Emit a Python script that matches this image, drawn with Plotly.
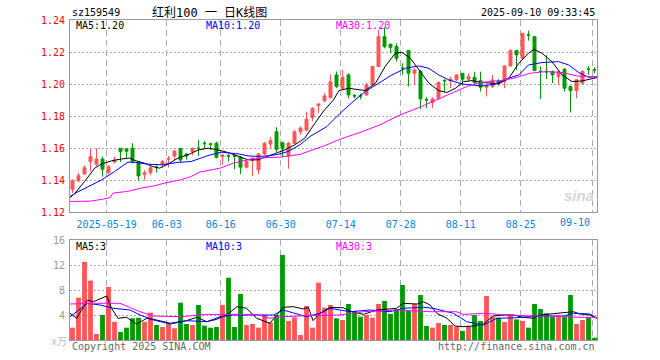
import plotly.graph_objects as go

# ---------------- data ----------------
may = [9, 12, 13, 14, 15, 16, 19, 20, 21, 22, 23, 26, 27, 28, 29, 30]
jun = [3, 4, 5, 6, 9, 10, 11, 12, 13, 16, 17, 18, 19, 20, 23, 24, 25, 26, 27, 30]
jul = [1, 2, 3, 4, 7, 8, 9, 10, 11, 14, 15, 16, 17, 18, 21, 22, 23, 24, 25, 28, 29, 30, 31]
aug = [1, 4, 5, 6, 7, 8, 11, 12, 13, 14, 15, 18, 19, 20, 21, 22, 25, 26, 27, 28, 29]
sep = [1, 2, 3, 4, 5, 8, 9, 10]
dates = ([f"2025-05-{d:02d}" for d in may] + [f"2025-06-{d:02d}" for d in jun] +
         [f"2025-07-{d:02d}" for d in jul] + [f"2025-08-{d:02d}" for d in aug] +
         [f"2025-09-{d:02d}" for d in sep])

opens = [1.1342, 1.1396, 1.1438, 1.1514, 1.1498, 1.1531, 1.1446, 1.1513, 1.1598, 1.1594,
         1.1598, 1.1508, 1.1434, 1.1446, 1.1480, 1.1498, 1.1530, 1.1550, 1.1597, 1.1562,
         1.1578, 1.1600, 1.1630, 1.1626, 1.1630, 1.1547, 1.1552, 1.1552, 1.1542, 1.1480,
         1.1521, 1.1463, 1.1563, 1.1625, 1.1702, 1.1633, 1.1550, 1.1629, 1.1702, 1.1712,
         1.1790, 1.1865, 1.1896, 1.1915, 1.2057, 1.1973, 1.2057, 1.1928, 1.1927, 1.1932,
         1.1994, 1.2109, 1.2296, 1.2248, 1.2234, 1.2100, 1.2209, 1.2067, 1.2078, 1.1902,
         1.1884, 1.1911, 1.2023, 1.2019, 1.2026, 1.2067, 1.2030, 1.2042, 1.2021, 1.1980,
         1.1984, 1.2020, 1.2015, 1.2113, 1.2209, 1.2161, 1.2308, 1.2296, 1.2080, 1.2080,
         1.2078, 1.2046, 1.2092, 1.1984, 1.1959, 1.2005, 1.2094, 1.2090]
highs = [1.1405, 1.1443, 1.1492, 1.1595, 1.1598, 1.1546, 1.1492, 1.1546, 1.1600, 1.1600,
         1.1630, 1.1512, 1.1462, 1.1492, 1.1495, 1.1525, 1.1550, 1.1588, 1.1600, 1.1568,
         1.1604, 1.1650, 1.1644, 1.1634, 1.1640, 1.1562, 1.1562, 1.1560, 1.1550, 1.1525,
         1.1545, 1.1568, 1.1637, 1.1668, 1.1730, 1.1640, 1.1638, 1.1712, 1.1735, 1.1827,
         1.1855, 1.1880, 1.1942, 1.2060, 1.2078, 1.2088, 1.2067, 1.1938, 1.1940, 1.2009,
         1.2115, 1.2338, 1.2354, 1.2254, 1.2254, 1.2130, 1.2213, 1.2098, 1.2088, 1.1917,
         1.1917, 1.2015, 1.2030, 1.2046, 1.2062, 1.2067, 1.2067, 1.2077, 1.2077, 1.1994,
         1.2057, 1.2030, 1.2115, 1.2217, 1.2213, 1.2320, 1.2333, 1.2300, 1.2109, 1.2180,
         1.2085, 1.2085, 1.2100, 1.1990, 1.2030, 1.2085, 1.2113, 1.2105]
lows = [1.1318, 1.1385, 1.1432, 1.1455, 1.1487, 1.1421, 1.1437, 1.1503, 1.1512, 1.1530,
        1.1505, 1.1396, 1.1397, 1.1430, 1.1447, 1.1478, 1.1478, 1.1525, 1.1510, 1.1527,
        1.1555, 1.1550, 1.1598, 1.1588, 1.1535, 1.1494, 1.1515, 1.1467, 1.1437, 1.1474,
        1.1425, 1.1437, 1.1556, 1.1594, 1.1575, 1.1540, 1.1470, 1.1625, 1.1683, 1.1706,
        1.1768, 1.1817, 1.1885, 1.1910, 1.1974, 1.1963, 1.1911, 1.1911, 1.1905, 1.1926,
        1.1988, 1.2105, 1.2223, 1.2192, 1.2140, 1.2057, 1.1984, 1.1994, 1.1843, 1.1849,
        1.1849, 1.1901, 1.1953, 1.1974, 1.2020, 1.1990, 1.2015, 1.2000, 1.1953, 1.1922,
        1.1974, 1.1990, 1.1974, 1.2109, 1.2088, 1.2157, 1.2271, 1.2080, 1.1907, 1.2030,
        1.2005, 1.1994, 1.1953, 1.1822, 1.1911, 1.1998, 1.2057, 1.2067]
closes = [1.1394, 1.1427, 1.1477, 1.1546, 1.1531, 1.1467, 1.1483, 1.1525, 1.1578, 1.1580,
          1.1515, 1.1425, 1.1445, 1.1477, 1.1477, 1.1515, 1.1535, 1.1581, 1.1525, 1.1550,
          1.1597, 1.1597, 1.1627, 1.1623, 1.1542, 1.1556, 1.1549, 1.1548, 1.1480, 1.1515,
          1.1535, 1.1563, 1.1629, 1.1646, 1.1592, 1.1595, 1.1630, 1.1702, 1.1725, 1.1779,
          1.1848, 1.1875, 1.1925, 1.2014, 1.1985, 1.2042, 1.1932, 1.1925, 1.1924, 1.1994,
          1.2109, 1.2296, 1.2234, 1.2229, 1.2161, 1.2098, 1.2067, 1.2088, 1.1907, 1.1900,
          1.1906, 1.2009, 1.2020, 1.2030, 1.2057, 1.2030, 1.2046, 1.2009, 1.1980, 1.1988,
          1.2025, 1.2005, 1.2113, 1.2209, 1.2182, 1.2317, 1.2305, 1.2084, 1.2078, 1.2075,
          1.2057, 1.2078, 1.1974, 1.1959, 1.2026, 1.2078, 1.2092, 1.2088]
volumes = [1.97, 6.77, 12.5, 9.5, 0.96, 4.0, 8.5, 2.9, 1.28, 1.97,
           3.47, 3.57, 2.9, 4.37, 2.4, 2.08, 2.56, 1.87, 5.97, 2.56,
           2.4, 5.6, 2.3, 1.97, 2.08, 5.6, 9.97, 2.08, 7.36, 2.4,
           2.56, 1.97, 4.0, 2.77, 4.0, 13.6, 3.04, 3.63, 0.8, 5.44,
           1.97, 9.17, 5.17, 5.6, 3.47, 3.2, 5.76, 4.64, 3.73, 4.0,
           3.57, 5.76, 6.24, 4.16, 4.9, 8.8, 4.64, 5.76, 7.2, 2.24,
           1.97, 2.72, 2.4, 2.4, 2.13, 1.44, 2.13, 4.0, 3.04, 7.04,
           3.73, 3.57, 2.88, 4.0, 3.3, 3.04, 1.97, 5.76, 4.96, 4.27,
           3.73, 3.73, 3.73, 7.2, 2.56, 3.2, 3.63, 0.37]

# moving averages: (candle index, value)
ma5_i = [-0.4, 0.36, 2, 3.7, 4.8, 6.5, 8.1, 9.5, 10.4, 12, 13.4, 14.5, 15.9, 17.6, 19.25, 21,
         22.6, 24.25, 25.9, 27.6, 29.25, 30.9, 32, 33.7, 35.4, 37, 38.7, 40.4, 42, 43.5, 44.4,
         46, 47.7, 48.8, 50.5, 52.1, 53.8, 54.9, 56.3, 57.7, 59.4, 61, 62.4, 63.8, 65.2, 66.6,
         68.25, 69.9, 71, 72.7, 74.4, 76, 76.9, 78.25, 79.9, 81.6, 83.25, 84.9, 87.4]
ma5_v = [1.1290, 1.1316, 1.1390, 1.1474, 1.1499, 1.1520, 1.1531, 1.1537, 1.1522, 1.1505,
         1.1484, 1.1474, 1.1499, 1.1537, 1.1558, 1.1588, 1.1599, 1.1588, 1.1572, 1.1551,
         1.1526, 1.1526, 1.1542, 1.1567, 1.1588, 1.1619, 1.1661, 1.1755, 1.1838, 1.1900,
         1.1959, 1.1973, 1.1967, 1.1959, 1.2005, 1.2109, 1.2192, 1.2198, 1.2161, 1.2088,
         1.2005, 1.1959, 1.1947, 1.1973, 1.2015, 1.2021, 1.2009, 1.2005, 1.2000, 1.2036,
         1.2130, 1.2192, 1.2217, 1.2192, 1.2140, 1.2057, 1.2015, 1.2019, 1.2040]
ma10_i = [-0.4, 0.9, 2.6, 4.8, 7, 9.25, 10.4, 12.6, 14.8, 17.6, 19.8, 21.5, 22.6, 24.8, 27.6,
          29.25, 30.9, 32.6, 34.25, 35.9, 37.9, 39.6, 42.4, 44.6, 46.6, 48.8, 50.5, 53.25,
          55.5, 57.7, 59.4, 61, 62.7, 64.9, 66.6, 68.25, 70.5, 72.7, 74.4, 76, 78.25, 81,
          82.7, 84.4, 86, 87.4]
ma10_v = [1.1297, 1.1326, 1.1358, 1.1400, 1.1453, 1.1512, 1.1510, 1.1499, 1.1495, 1.1510,
          1.1516, 1.1540, 1.1553, 1.1574, 1.1563, 1.1551, 1.1547, 1.1551, 1.1560, 1.1578,
          1.1620, 1.1672, 1.1734, 1.1817, 1.1885, 1.1953, 1.1994, 1.2057, 1.2098, 1.2113,
          1.2098, 1.2057, 1.2026, 1.2000, 1.1994, 1.1988, 1.2000, 1.2036, 1.2057, 1.2119,
          1.2134, 1.2140, 1.2119, 1.2071, 1.2042, 1.2046]
ma30_i = [-0.4, 3, 5, 6.3, 6.75, 9.2, 11.5, 13.7, 15.4, 18.1, 19.8, 21.25, 24.6, 26.8, 29.6,
          32.4, 34.6, 36.25, 37.9, 40.1, 42.4, 44.6, 47.9, 51.25, 54.6, 57.9, 60.7, 62.9,
          65.7, 67.9, 71.25, 73.5, 76.25, 79, 81.8, 84, 87.4]
ma30_v = [1.1266, 1.1268, 1.1280, 1.1290, 1.1318, 1.1329, 1.1350, 1.1364, 1.1381, 1.1402,
          1.1422, 1.1450, 1.1474, 1.1505, 1.1530, 1.1540, 1.1543, 1.1550, 1.1560, 1.1589,
          1.1620, 1.1655, 1.1697, 1.1745, 1.1807, 1.1855, 1.1901, 1.1938, 1.1984, 1.2009,
          1.2021, 1.2036, 1.2067, 1.2078, 1.2071, 1.2050, 1.2046]

vma5_i = [-0.4, 0.7, 2.5, 3.5, 5.7, 6.5, 7.6, 9, 10.7, 12.4, 14, 16.3, 19, 20.7, 22.4, 24,
          25.7, 27.4, 29, 30.7, 32.9, 35.1, 36.8, 38.5, 39.3, 40.1, 41.25, 42.9, 45.1, 46.25,
          48.5, 50.7, 54, 55.1, 57.4, 58.5, 59.6, 60.7, 62.4, 63.75, 65.1, 66.8, 68.5, 70.1,
          71.8, 73.5, 75.1, 76.8, 77.9, 80.7, 81.8, 83.5, 84.6, 86.25, 87.4]
vma5_v = [4.27, 3.47, 6.4, 6.13, 7.04, 5.07, 3.47, 3.63, 2.56, 3.47, 3.2, 2.67, 3.09, 3.63,
          2.93, 3.3, 4.0, 5.33, 5.07, 3.47, 2.67, 5.23, 5.33, 4.96, 5.23, 3.09, 4.27, 5.2,
          5.17, 4.64, 4.1, 4.8, 5.07, 5.87, 5.76, 6.13, 5.6, 4.27, 3.47, 2.24, 2.13, 2.24,
          2.56, 3.84, 4.0, 4.0, 3.63, 3.47, 4.0, 4.27, 4.37, 4.53, 4.16, 4.0, 3.47]
vma10_i = [-0.4, 2.5, 4.6, 6.8, 9.6, 11.25, 13.5, 16.3, 19, 22.4, 24.6, 26.8, 30.1, 33.5,
           35.1, 36.8, 39, 41.25, 42.9, 46.25, 49.6, 52.9, 55.1, 58.5, 60.1, 63.5, 65.7,
           68.5, 70.7, 74, 77.4, 81.8, 83.5, 86.25, 87.4]
vma10_v = [3.73, 5.87, 5.6, 5.07, 4.8, 4.0, 3.2, 2.56, 3.09, 2.93, 3.73, 4.0, 4.0, 4.0, 4.8,
           4.37, 3.73, 4.27, 5.07, 4.53, 4.8, 4.53, 5.07, 5.23, 5.07, 4.27, 2.93, 2.4, 3.47,
           3.57, 3.84, 3.84, 4.27, 4.16, 3.47]
vma30_i = [-0.4, 3.5, 7.9, 11.25, 13.5, 17.9, 22.4, 26.8, 30.7, 32.9, 35.1, 39, 42.9, 44.5,
           48.5, 54, 59.6, 64, 65.1, 68.5, 72.9, 76.25, 81.8, 84, 87.4]
vma30_v = [5.76, 5.87, 5.87, 4.53, 3.84, 3.73, 4.1, 4.1, 4.1, 3.47, 3.73, 3.89, 3.89, 4.0,
           4.53, 4.8, 4.53, 4.53, 4.1, 4.27, 4.0, 3.84, 3.84, 3.63, 3.63]

tick_dates = ["2025-05-19", "2025-06-03", "2025-06-16", "2025-06-30", "2025-07-14",
              "2025-07-28", "2025-08-11", "2025-08-25", "2025-09-10"]
tick_labels = ["2025-05-19", "06-03", "06-16", "06-30", "07-14", "07-28", "08-11", "08-25", "09-10"]
price_ticks = [1.12, 1.14, 1.16, 1.18, 1.20, 1.22, 1.24]
vol_ticks = [0, 4, 8, 12, 16]

# ---------------- figure ----------------
W, H = 660, 360
def px(x):
    return x / W
def py(y):
    return 1 - y / H

RED = "#ff5555"
GREEN = "#009a00"
MONO = "DejaVu Sans Mono, Noto Sans CJK SC, monospace"

idx = list(range(len(dates)))
tick_pos = [dates.index(d) - 0.3 for d in tick_dates]
tick_text = tick_labels[:-1] + [""]
vol_colors = [RED if c >= o else GREEN for o, c in zip(opens, closes)]

fig = go.Figure()
fig.add_trace(go.Candlestick(
    x=idx, open=opens, high=highs, low=lows, close=closes,
    increasing=dict(line=dict(color=RED, width=1), fillcolor=RED),
    decreasing=dict(line=dict(color=GREEN, width=1), fillcolor=GREEN),
    hoverinfo="skip", xaxis="x", yaxis="y"))
for xi, yv, col in [(ma5_i, ma5_v, "#000000"), (ma10_i, ma10_v, "#0000ff"), (ma30_i, ma30_v, "#ff00ff")]:
    fig.add_trace(go.Scatter(x=xi, y=yv, mode="lines", line=dict(color=col, width=1),
                             hoverinfo="skip", xaxis="x", yaxis="y"))
fig.add_trace(go.Bar(x=idx, y=volumes, marker=dict(color=vol_colors, line=dict(width=0)),
                     width=0.8, hoverinfo="skip", xaxis="x2", yaxis="y2"))
for xi, yv, col in [(vma5_i, vma5_v, "#000000"), (vma10_i, vma10_v, "#0000ff"), (vma30_i, vma30_v, "#ff00ff")]:
    fig.add_trace(go.Scatter(x=xi, y=yv, mode="lines", line=dict(color=col, width=1),
                             hoverinfo="skip", xaxis="x2", yaxis="y2"))

xrange = [-0.4167, 87.4167]
common_x = dict(range=xrange, domain=[px(70), px(597)], tickmode="array", tickvals=tick_pos,
                showgrid=True, gridcolor="#aaaaaa", griddash="6px,4px", gridwidth=1,
                showline=True, linecolor="#999999", linewidth=1, mirror=True,
                zeroline=False, ticks="", fixedrange=True)
fig.update_layout(
    width=W, height=H, margin=dict(l=0, r=0, t=0, b=0, autoexpand=False),
    paper_bgcolor="white", plot_bgcolor="white", showlegend=False,
    xaxis=dict(**common_x, anchor="y", ticktext=tick_text,
               tickfont=dict(family=MONO, size=10, color="#0b84d8"),
               rangeslider=dict(visible=False), ticklabelstandoff=3),
    xaxis2=dict(**common_x, anchor="y2", matches="x", showticklabels=False),
    yaxis=dict(domain=[py(212), py(20)], range=[1.12, 1.24], tickmode="array",
               tickvals=price_ticks, ticktext=[f"{v:.2f}" for v in price_ticks],
               tickfont=dict(family=MONO, size=10, color="#ff0000"),
               showgrid=True, gridcolor="#aaaaaa", griddash="2px,2px",
               showline=True, linecolor="#999999", mirror=True, zeroline=False,
               ticks="", anchor="x", fixedrange=True, ticklabelstandoff=2),
    yaxis2=dict(domain=[py(340), py(240)], range=[0, 16], tickmode="array",
                tickvals=vol_ticks, ticktext=["" if v == 0 else str(v) for v in vol_ticks],
                tickfont=dict(family=MONO, size=10, color="#999999"),
                showgrid=True, gridcolor="#aaaaaa", griddash="2px,2px",
                showline=True, linecolor="#999999", mirror=True, zeroline=False,
                ticks="", anchor="x2", fixedrange=True, ticklabelstandoff=2),
    bargap=0.2,
)

def text(s, x, y, anchor="left", color="#000000", size=10, family=MONO):
    fig.add_annotation(text=s, x=px(x), y=py(y), xref="paper", yref="paper",
                       xanchor=anchor, yanchor="middle", showarrow=False,
                       font=dict(family=family, size=size, color=color))

text("sz159549", 70, 13)
text("红利100 一 日K线图", 209, 13, anchor="center", size=12)
text("2025-09-10 09:33:45", 597, 13, anchor="right")
text("MA5:1.20", 74, 26)
text("MA10:1.20", 204, 26, color="#0000ff")
text("MA30:1.20", 334, 26, color="#ff00ff")
text("MA5:3", 74, 246)
text("MA10:3", 204, 246, color="#0000ff")
text("MA30:3", 334, 246, color="#ff00ff")
text(tick_labels[-1], 592, 222, anchor="right", color="#0b84d8")
text("x万", 49, 341, color="#bbbbbb")
text("Copyright 2025 SINA.COM", 70, 346, color="#666666")
text("http://finance.sina.com.cn", 597, 346, anchor="right", color="#666666")
text("<b><i>sina</i></b>", 596, 196, anchor="right", color="#d6d6d6", size=15,
     family="Liberation Sans, Arial, sans-serif")

fig.write_html("out.html", config={"displayModeBar": False},
               post_script="document.body.style.margin='0px';document.body.style.overflow='hidden';")
